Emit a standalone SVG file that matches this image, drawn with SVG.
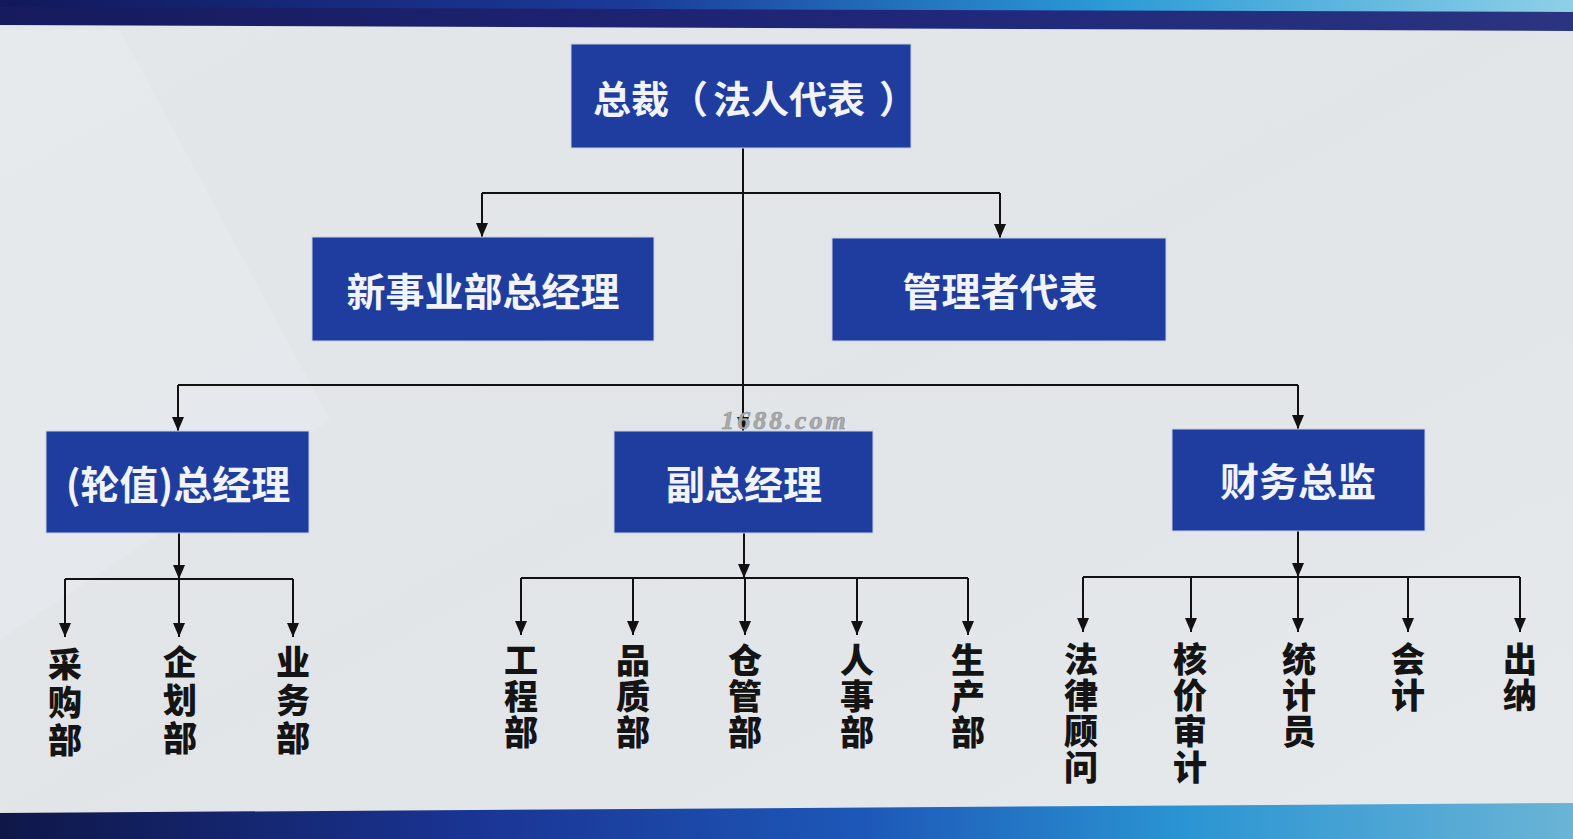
<svg xmlns="http://www.w3.org/2000/svg" width="1573" height="839" viewBox="0 0 1573 839">
<style>
.box{fill:#1f3d9f;stroke:#c9d0e6;stroke-width:1}
.bt{font-family:"Noto Sans CJK SC","Noto Sans",sans-serif;font-weight:700;font-size:39px;fill:#f2f3f7;text-anchor:middle;dominant-baseline:central}
.vt{font-family:"Noto Sans CJK SC","Noto Sans",sans-serif;font-weight:900;font-size:34px;fill:#141414;writing-mode:vertical-rl;text-anchor:start}
.v3{letter-spacing:4px}
.v4{letter-spacing:2px}
.ln{stroke:#111;stroke-width:2;fill:none}
.ar{stroke:#111;stroke-width:2;fill:none;marker-end:url(#ah)}
</style>
<defs>
<marker id="ah" viewBox="0 0 14 12" refX="14" refY="6" markerWidth="14" markerHeight="12" markerUnits="userSpaceOnUse" orient="auto">
<path d="M0,0 L14,6 L0,12 z" fill="#111"/>
</marker>
<linearGradient id="bg" x1="0" y1="0" x2="1" y2="1">
<stop offset="0" stop-color="#e3e7ea"/>
<stop offset="0.5" stop-color="#e1e5e8"/>
<stop offset="1" stop-color="#e6e9ec"/>
</linearGradient>
<linearGradient id="topg" x1="0" y1="0" x2="1" y2="0">
<stop offset="0" stop-color="#12185a"/>
<stop offset="0.4" stop-color="#1a3a9a"/>
<stop offset="0.7" stop-color="#2a9ad6"/>
<stop offset="1" stop-color="#8ed0e6"/>
</linearGradient>
<linearGradient id="navy" x1="0" y1="0" x2="1" y2="0">
<stop offset="0" stop-color="#161a5e"/>
<stop offset="0.6" stop-color="#21287a"/>
<stop offset="1" stop-color="#2a3480"/>
</linearGradient>
<linearGradient id="botg" x1="0" y1="0" x2="1" y2="0">
<stop offset="0" stop-color="#0f1748"/>
<stop offset="0.3" stop-color="#1a3494"/>
<stop offset="0.55" stop-color="#1d58b8"/>
<stop offset="0.75" stop-color="#2a94d2"/>
<stop offset="1" stop-color="#6ab4d6"/>
</linearGradient>
</defs>
<rect x="0" y="0" width="1573" height="839" fill="url(#bg)"/>
<polygon points="0,30 120,30 330,420 0,640" fill="#e9ecef" opacity="0.5"/>
<polygon points="0,0 1573,0 1573,31 0,25" fill="url(#navy)"/>
<polygon points="0,0 1573,0 1573,12 0,7" fill="url(#topg)"/>
<polygon points="0,813 1573,803 1573,839 0,839" fill="url(#botg)"/>

<g id="connectors">
<line class="ln" x1="743" y1="148" x2="743" y2="385"/>
<line class="ar" x1="743" y1="385" x2="743" y2="431"/>
<polyline class="ln" points="482,193 1000,193"/>
<line class="ar" x1="482" y1="193" x2="482" y2="237"/>
<line class="ar" x1="1000" y1="193" x2="1000" y2="238"/>
<polyline class="ln" points="178,385 1298,385"/>
<line class="ar" x1="178" y1="385" x2="178" y2="431"/>
<line class="ar" x1="1298" y1="385" x2="1298" y2="429"/>

<line class="ar" x1="179" y1="533" x2="179" y2="579"/>
<line class="ln" x1="65" y1="579" x2="293" y2="579"/>
<line class="ar" x1="65" y1="579" x2="65" y2="637"/>
<line class="ar" x1="179" y1="579" x2="179" y2="637"/>
<line class="ar" x1="293" y1="579" x2="293" y2="637"/>

<line class="ar" x1="744" y1="533" x2="744" y2="578"/>
<line class="ln" x1="521" y1="578" x2="968" y2="578"/>
<line class="ar" x1="521" y1="578" x2="521" y2="635"/>
<line class="ar" x1="633" y1="578" x2="633" y2="635"/>
<line class="ar" x1="745" y1="578" x2="745" y2="635"/>
<line class="ar" x1="857" y1="578" x2="857" y2="635"/>
<line class="ar" x1="968" y1="578" x2="968" y2="635"/>

<line class="ar" x1="1298" y1="531" x2="1298" y2="577"/>
<line class="ln" x1="1083" y1="577" x2="1520" y2="577"/>
<line class="ar" x1="1083" y1="577" x2="1083" y2="632"/>
<line class="ar" x1="1191" y1="577" x2="1191" y2="632"/>
<line class="ar" x1="1298" y1="577" x2="1298" y2="632"/>
<line class="ar" x1="1408" y1="577" x2="1408" y2="632"/>
<line class="ar" x1="1520" y1="577" x2="1520" y2="632"/>
</g>

<g id="n-president"><rect class="box" x="571" y="44" width="340" height="104"/><text class="bt" y="96" style="text-anchor:start;font-size:38px"><tspan x="593">总裁</tspan><tspan x="670">（</tspan><tspan x="713">法人代表</tspan><tspan x="879">）</tspan></text></g>
<g id="n-newbiz"><rect class="box" x="312" y="237" width="342" height="104"/><text class="bt" x="483" y="289">新事业部总经理</text></g>
<g id="n-mgmtrep"><rect class="box" x="832" y="238" width="334" height="103"/><text class="bt" x="1000" y="289">管理者代表</text></g>
<g id="n-gm"><rect class="box" x="46" y="431" width="263" height="102"/><text class="bt" x="178" y="482">(轮值)总经理</text></g>
<g id="n-vgm"><rect class="box" x="614" y="431" width="259" height="102"/><text class="bt" x="744" y="482">副总经理</text></g>
<g id="n-cfo"><rect class="box" x="1172" y="429" width="253" height="102"/><text class="bt" x="1298" y="479">财务总监</text></g>

<text x="785" y="429" font-family="Liberation Serif,serif" font-style="italic" font-weight="700" font-size="26" fill="#a9abad" stroke="#8e9092" stroke-width="0.6" text-anchor="middle" letter-spacing="3">1688.com</text>

<g id="n-purchase"><text class="vt v3" x="65" y="647">采购部</text></g>
<g id="n-plan"><text class="vt v3" x="180" y="645">企划部</text></g>
<g id="n-sales"><text class="vt v3" x="293" y="645">业务部</text></g>

<g id="n-eng"><text class="vt v4" x="521" y="643">工程部</text></g>
<g id="n-qa"><text class="vt v4" x="633" y="643">品质部</text></g>
<g id="n-wh"><text class="vt v4" x="745" y="643">仓管部</text></g>
<g id="n-hr"><text class="vt v4" x="857" y="643">人事部</text></g>
<g id="n-prod"><text class="vt v4" x="968" y="643">生产部</text></g>

<g id="n-legal"><text class="vt v4" x="1081" y="642">法律顾问</text></g>
<g id="n-audit"><text class="vt v4" x="1190" y="642">核价审计</text></g>
<g id="n-stat"><text class="vt v4" x="1299" y="642">统计员</text></g>
<g id="n-acct"><text class="vt v4" x="1408" y="642">会计</text></g>
<g id="n-cashier"><text class="vt v4" x="1520" y="642">出纳</text></g>
</svg>
